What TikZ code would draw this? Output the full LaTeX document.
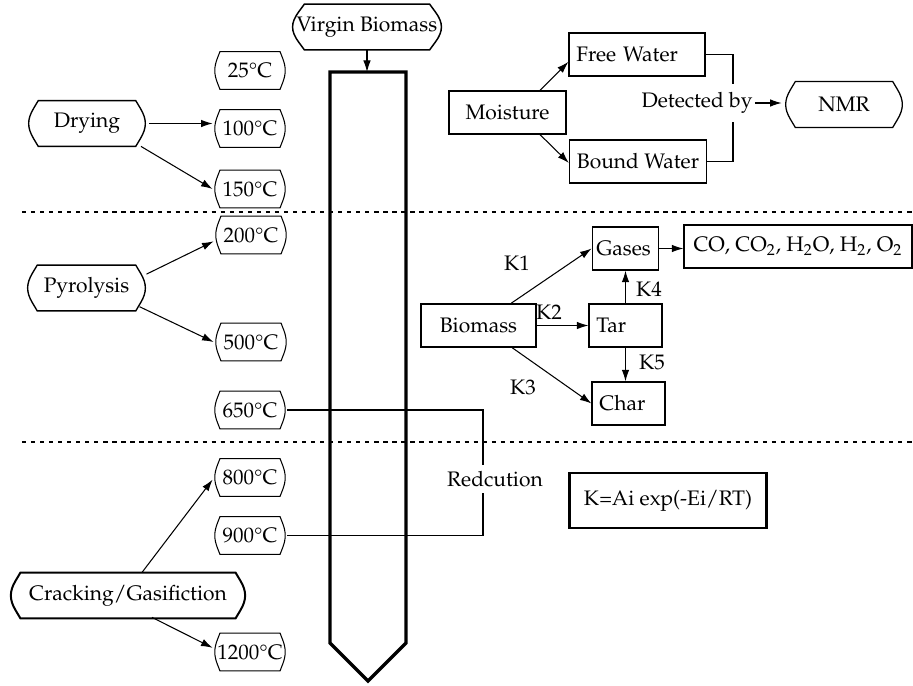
\documentclass[tikz,border=0pt]{standalone}
\usepackage[T1]{fontenc}
\usepackage{mathpazo}
\usetikzlibrary{arrows.meta,calc}
\tikzset{
  stage/.style={inner sep=0pt, minimum height=21.4pt},
  temp/.style={inner sep=0pt, minimum width=35.2pt, minimum height=17.6pt},
  box/.style={draw, line width=0.6pt, minimum height=20.5pt, inner xsep=3.5pt},
  link/.style={line width=0.5pt, -{Latex[length=5.5pt,width=3.6pt]}},
  wire/.style={line width=0.5pt},
  zone/.style={line width=0.5pt, dash pattern=on 2pt off 2.3pt},
}
\begin{document}
\begin{tikzpicture}[x=0.476pt,y=-0.476pt]
      \useasboundingbox (0,0) rectangle (913,685);
      % stages and temperatures
      \node[stage, minimum width=75.2pt] (vb) at (367,27) {Virgin Biomass};
      \node[stage, minimum width=59pt] (dry) at (87,123.5) {Drying};
      \node[stage, minimum width=59.5pt] (pyr) at (86.5,288) {Pyrolysis};
      \node[stage, minimum width=115pt] (crk) at (128,595.5) {Cracking/Gasifiction};
      \node[stage, minimum width=59pt] (nmr) at (844,104.5) {NMR};
      \node[temp] (t25) at (250,70.5) {25\textdegree C};
      \node[temp] (t100) at (250,128.5) {100\textdegree C};
      \node[temp] (t150) at (250,189) {150\textdegree C};
      \node[temp] (t200) at (251,235) {200\textdegree C};
      \node[temp] (t500) at (251,342) {500\textdegree C};
      \node[temp] (t650) at (250,410) {650\textdegree C};
      \node[temp] (t800) at (250,477.5) {800\textdegree C};
      \node[temp] (t900) at (250,535.5) {900\textdegree C};
      \node[temp] (t1200) at (250,652) {1200\textdegree C};
      \foreach \n/\c/\w in {vb/8pt/0.7pt, dry/6.5pt/0.65pt, pyr/6.5pt/0.65pt,
          crk/6.5pt/0.95pt, nmr/6.5pt/0.6pt, t25/3.5pt/0.5pt, t100/3.5pt/0.5pt,
          t150/3.5pt/0.5pt, t200/3.5pt/0.5pt, t500/3.5pt/0.5pt,
          t650/3.5pt/0.5pt, t800/3.5pt/0.5pt, t900/3.5pt/0.5pt,
          t1200/3.5pt/0.5pt}
        \draw[line width=\w] ([xshift=\c]\n.north west) -- ([xshift=-\c]\n.north east)
          -- ($([xshift=-\c]\n.north east)!.35!(\n.east)$)
          .. controls ($([xshift=-\c]\n.north east)!.82!(\n.east)$) and ($([xshift=-\c]\n.south east)!.82!(\n.east)$)
          .. ($([xshift=-\c]\n.south east)!.35!(\n.east)$)
          -- ([xshift=-\c]\n.south east) -- ([xshift=\c]\n.south west)
          -- ($([xshift=\c]\n.south west)!.35!(\n.west)$)
          .. controls ($([xshift=\c]\n.south west)!.82!(\n.west)$) and ($([xshift=\c]\n.north west)!.82!(\n.west)$)
          .. ($([xshift=\c]\n.north west)!.35!(\n.west)$)
          -- cycle;
      % zones
      \draw[zone] (22,212) -- (913,212);
      \draw[zone] (22,442) -- (913,442);
      % reduction loop
      \coordinate (bend) at (483,0);
      \draw[wire] (t650.east) -- (t650.east -| bend) -- (t900.east -| bend) -- (t900.east);
      \node[fill=white, inner xsep=0pt, inner ysep=0pt, minimum height=13pt] (red) at (495,479) {Redcution};
      % reactor
      \coordinate (coltop) at (368,72);
      \draw[line width=1.6pt] (330,72) -- (330,643) -- (368,681) -- (406,643) -- (406,72) -- cycle;
      \draw[link] (vb.south) -- (vb.south |- coltop);
      \draw[link] (dry.east) -- (dry.east -| t100.west);
      \draw[link] ([xshift=-4pt]dry.south east) -- (t150.west);
      \draw[link] ([xshift=-1.4pt,yshift=-4.3pt]pyr.north east) -- ([yshift=-3pt]t200.west);
      \draw[link] ([xshift=-4.7pt,yshift=2pt]pyr.south east) -- (t500.west);
      \draw[link] ([xshift=6.6pt]crk.north) -- ([yshift=-1pt]t800.west);
      \draw[link] ([xshift=11.4pt,yshift=0.5pt]crk.south) -- ([yshift=2pt]t1200.west);
      % moisture
      \node[box, minimum width=55.7pt] (moist) at (507.5,112.5) {Moisture};
      \node[box, text width=57.7pt, align=left] (free) at (637,54.5) {Free Water};
      \node[box, minimum width=65.2pt, inner xsep=1pt] (bound) at (638,161.5) {Bound Water};
      \draw[link] ([xshift=15.5pt]moist.north) -- ([yshift=-3.5pt]free.west);
      \draw[link] ([xshift=15.5pt]moist.south) -- ([yshift=-0.7pt]bound.west);
      \coordinate (tap) at (733,0);
      \draw[wire] (free.east) -| (tap |- bound.east) -- (bound.east);
      \node[fill=white, inner xsep=1pt, inner ysep=0pt, minimum height=18pt] (det) at (697,103) {Detected by};
      \draw[link] (det.east) -- (det.east -| nmr.west);
      % kinetics
      \node[box, minimum width=54.7pt] (bio) at (478.5,325.5) {Biomass};
      \node[box, text width=27.7pt, align=left, inner xsep=2pt] (gas) at (625.5,248.5) {Gases};
      \node[box, text width=27.7pt, align=left] (tar) at (625.5,325.5) {Tar};
      \node[box, text width=27.7pt, align=left] (char) at (628.5,403.5) {Char};
      \node[box, minimum width=108.5pt, inner xsep=1pt] (prod) at (798,246.5) {CO, CO$_2$, H$_2$O, H$_2$, O$_2$};
      \draw[link] ([xshift=15.5pt]bio.north) -- (gas.west);
      \draw[link] (bio.east) -- (tar.west);
      \draw[link] ([xshift=16pt]bio.south) -- (char.west);
      \draw[link] (tar.north) -- (gas.south);
      \draw[link] (tar.south) -- (tar.south |- char.north);
      \draw[link] (gas.east) -- (gas.east -| prod.west);
      \node (k1) at (517,263) {K1};
      \node (k2) at (549,312) {K2};
      \node (k3) at (523,387) {K3};
      \node (k4) at (649,289) {K4};
      \node (k5) at (652,362) {K5};
      % rate law
      \node[draw, line width=0.8pt, minimum width=93.3pt, minimum height=26.2pt] (rate) at (668,500.5) {K=Ai exp(-Ei/RT)};
      \draw[line width=1.4pt] (rate.north west) -- (rate.south west) (rate.north east) -- (rate.south east);
    \end{tikzpicture}
\end{document}
